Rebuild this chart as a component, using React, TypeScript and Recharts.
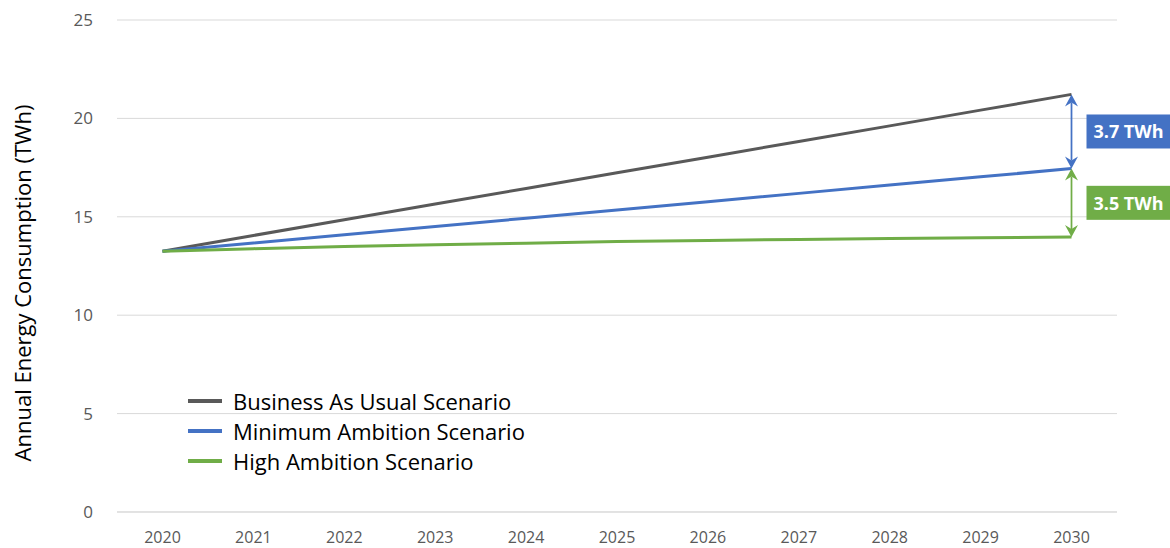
import React from 'react';
import { LineChart, Line, XAxis, YAxis, CartesianGrid, ReferenceLine, Legend } from 'recharts';

const years = ['2020', '2021', '2022', '2023', '2024', '2025', '2026', '2027', '2028', '2029', '2030'];
const businessAsUsual = [13.25, 14.05, 14.85, 15.65, 16.44, 17.24, 18.03, 18.83, 19.62, 20.42, 21.22];
const minimumAmbition = [13.25, 13.67, 14.09, 14.51, 14.93, 15.35, 15.77, 16.19, 16.61, 17.03, 17.45];
const highAmbition = [13.25, 13.38, 13.49, 13.58, 13.66, 13.74, 13.8, 13.85, 13.9, 13.94, 13.97];
const yTicks = [0, 5, 10, 15, 20, 25];
const seriesNames = ['Business As Usual Scenario', 'Minimum Ambition Scenario', 'High Ambition Scenario'];
const seriesKeys = ['bau', 'min', 'high'];
const seriesColors = ['#595959', '#4472C4', '#70AD47'];
const gapLabels = ['3.7 TWh', '3.5 TWh'];
const yAxisTitle = 'Annual Energy Consumption (TWh)';

const data = years.map((year, i) => ({
  year,
  bau: businessAsUsual[i],
  min: minimumAmbition[i],
  high: highAmbition[i],
}));

const FONT = '"Open Sans", sans-serif';
const lastYear = years[years.length - 1];
const last = years.length - 1;

const makeArrowShape = (color: string, label: string) => (props: any) => {
  const { x1, y1, x2, y2 } = props;
  const x = x1;
  const top = Math.min(y1, y2);
  const bot = Math.max(y1, y2);
  const mid = (top + bot) / 2;
  const hw = 6.5;
  const hh = 12;
  const notch = 8;
  const upHead = `M${x},${top} L${x - hw},${top + hh} L${x},${top + notch} L${x + hw},${top + hh} Z`;
  const downHead = `M${x},${bot} L${x - hw},${bot - hh} L${x},${bot - notch} L${x + hw},${bot - hh} Z`;
  return (
    <g>
      <line x1={x} y1={top + notch} x2={x} y2={bot - notch} stroke={color} strokeWidth={1.75} />
      <path d={upHead} fill={color} />
      <path d={downHead} fill={color} />
      <rect x={x + 15} y={mid - 17} width={85} height={34} fill={color} />
      <text
        x={x + 15 + 42}
        y={mid}
        fill="#ffffff"
        fontFamily={FONT}
        fontWeight={700}
        fontSize={18}
        textAnchor="middle"
        dominantBaseline="central"
      >
        {label}
      </text>
    </g>
  );
};

const LegendContent = () => (
  <div style={{ fontFamily: FONT, fontSize: 22, color: '#000', lineHeight: '30px' }}>
    {seriesNames.map((name, i) => (
      <div key={name} style={{ display: 'flex', alignItems: 'center', whiteSpace: 'nowrap' }}>
        <span
          style={{
            display: 'inline-block',
            width: 34,
            height: 4,
            background: seriesColors[i],
            marginRight: 11,
          }}
        />
        <span>{name}</span>
      </div>
    ))}
  </div>
);

const YTitle = (props: any) => {
  const vb = props.viewBox || {};
  const cx = (vb.x || 0) + 22;
  const cy = (vb.y || 0) + (vb.height || 0) / 2 + 17;
  return (
    <text
      x={cx}
      y={cy}
      transform={`rotate(-90, ${cx}, ${cy})`}
      textAnchor="middle"
      dominantBaseline="central"
      fontFamily={FONT}
      fontSize={22}
      fill="#000"
    >
      {yAxisTitle}
    </text>
  );
};

export default function App() {
  return (
    <div style={{ position: 'absolute', left: 0, top: 0, width: 1170, height: 548, background: '#fff' }}>
      <LineChart width={1170} height={548} data={data} margin={{ top: 20, right: 53, bottom: 6, left: 0 }}>
        <CartesianGrid vertical={false} stroke="#d9d9d9" strokeWidth={1} />
        <XAxis
          dataKey="year"
          height={30}
          padding={{ left: 45.5, right: 45.5 }}
          axisLine={{ stroke: '#d9d9d9', strokeWidth: 1 }}
          tickLine={false}
          tick={{ fill: '#595959', fontSize: 16, fontFamily: FONT }}
          tickMargin={14}
          interval={0}
        />
        <YAxis
          width={117}
          domain={[0, 25]}
          ticks={yTicks}
          axisLine={false}
          tickLine={false}
          tick={{ fill: '#595959', fontSize: 17, fontFamily: FONT }}
          tickMargin={18}
          label={{ content: YTitle }}
        />
        <Legend
          layout="vertical"
          align="center"
          verticalAlign="middle"
          content={LegendContent}
          wrapperStyle={{ left: 188, top: 386, width: 'auto' }}
        />
        {seriesKeys.map((k, i) => (
          <Line
            key={k}
            dataKey={k}
            name={seriesNames[i]}
            stroke={seriesColors[i]}
            strokeWidth={3}
            dot={false}
            activeDot={false}
            isAnimationActive={false}
          />
        ))}
        <ReferenceLine
          segment={[
            { x: lastYear, y: businessAsUsual[last] },
            { x: lastYear, y: minimumAmbition[last] },
          ]}
          shape={makeArrowShape(seriesColors[1], gapLabels[0])}
          ifOverflow="visible"
        />
        <ReferenceLine
          segment={[
            { x: lastYear, y: minimumAmbition[last] },
            { x: lastYear, y: highAmbition[last] },
          ]}
          shape={makeArrowShape(seriesColors[2], gapLabels[1])}
          ifOverflow="visible"
        />
      </LineChart>
    </div>
  );
}
